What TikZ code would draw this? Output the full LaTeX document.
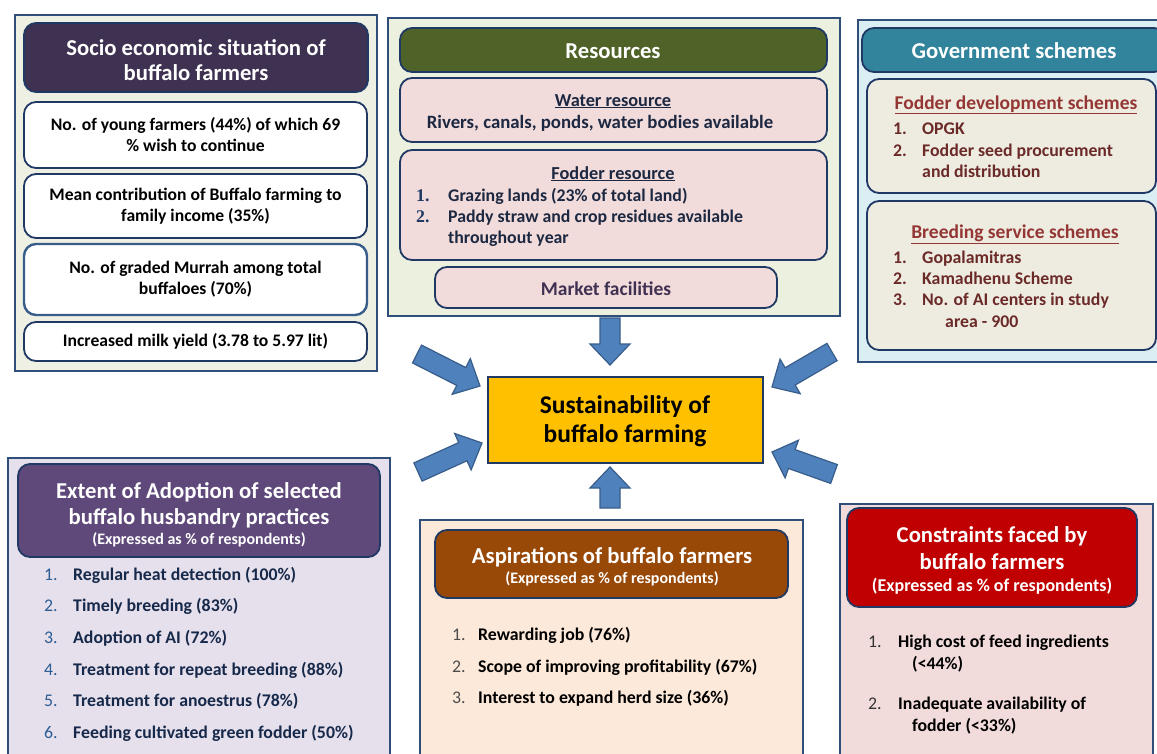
\documentclass[tikz,border=0pt]{standalone}
\usepackage{fontspec}
\setmainfont{Carlito}
\newfontfamily\serifnum{Liberation Serif}
\usetikzlibrary{calc,fit}
\definecolor{panelc}{HTML}{2F4F7A}
\definecolor{navy}{HTML}{1F3864}
\definecolor{socfill}{HTML}{EEF0E4}
\definecolor{soctitle}{HTML}{3F3151}
\definecolor{resfill}{HTML}{EBF1DE}
\definecolor{restitle}{HTML}{4F6228}
\definecolor{pinkbox}{HTML}{F2DCDB}
\definecolor{govfill}{HTML}{DBEEF4}
\definecolor{govtitle}{HTML}{31849B}
\definecolor{govbox}{HTML}{EEECE1}
\definecolor{govred}{HTML}{943634}
\definecolor{govtext}{HTML}{6B2A28}
\definecolor{coref}{HTML}{FFC000}
\definecolor{arrowf}{HTML}{4F81BD}
\definecolor{arrowd}{HTML}{385D8A}
\definecolor{adofill}{HTML}{E5E0EC}
\definecolor{adotitle}{HTML}{5F497A}
\definecolor{adotext}{HTML}{17294A}
\definecolor{adonum}{HTML}{2C5C94}
\definecolor{aspfill}{HTML}{FDE9D9}
\definecolor{asptitle}{HTML}{984807}
\definecolor{confill}{HTML}{F2DCDB}
\definecolor{contitle}{HTML}{C00000}
\definecolor{mktext}{HTML}{403152}
\definecolor{restext}{HTML}{1C2841}
\tikzset{
  panel/.style={draw=panelc, line width=2.4pt, inner sep=0pt},
  ibox/.style={draw=navy, line width=1.8pt, rounded corners=12pt, inner sep=0pt, align=center, font=\bfseries\fontsize{17.6}{21}\selectfont},
  tbox/.style={draw=navy, line width=1.8pt, rounded corners=12pt, inner sep=0pt, align=center, text=white},
  tl/.style={inner sep=0pt, anchor=base, font=\bfseries\fontsize{22.7}{26}\selectfont, text=white},
  sub/.style={inner sep=0pt, anchor=base, font=\bfseries\fontsize{16}{18}\selectfont, text=white},
  li/.style={inner sep=0pt, anchor=base west, font=\bfseries\fontsize{17.8}{20}\selectfont},
  ln/.style={inner sep=0pt, anchor=base west, font=\fontsize{17.8}{20}\selectfont},
  hd/.style={inner sep=0pt, anchor=base, font=\bfseries\fontsize{18.3}{20}\selectfont},
  barrow/.style={fill=arrowf, draw=arrowd, line width=1.2pt, line join=miter},
}
\newcommand\blockarrow[2]{%
  \coordinate (hb) at ($(#2)!21pt!(#1)$);
  \draw[barrow] ($(#1)!10pt!90:(#2)$) -- ($(hb)!10pt!90:(#2)$) -- ($(hb)!20pt!90:(#2)$) -- (#2)
    -- ($(hb)!20pt!-90:(#2)$) -- ($(hb)!10pt!-90:(#2)$) -- ($(#1)!10pt!-90:(#2)$) -- cycle;}
\begin{document}
\begin{tikzpicture}[x=1pt,y=-1pt]
\useasboundingbox (0,0) rectangle (1157,753);
\clip (0,0) rectangle (1157,753);
\fill[white] (0,0) rectangle (1157,753);

% ---------- Socio economic panel ----------
\node[panel, fill=socfill, fit={(15,15) (377,371)}] (socp) {};
\node[tbox, fill=soctitle, fit={(24,23) (368,92)}] (soct) {};
\node[tl] (soct1) at (196,55) {Socio economic situation of};
\node[tl] (soct2) at (196,80) {buffalo farmers};
\node[ibox, fill=white, fit={(24,102) (367,168)}] (s1) {};
\node[ibox, fill=white, fit={(24,174) (367,238)}] (s2) {};
\node[ibox, fill=white, draw=arrowd, line width=2.4pt, fit={(24,244) (367,315)}] (s3) {};
\node[ibox, fill=white, fit={(24,322) (367,361)}] (s4) {};
\node[ibox, draw=none, align=center] (s1t) at (s1) {No. of young farmers (44\%) of which 69\\\% wish to continue};
\node[ibox, draw=none, align=center] (s2t) at (s2) {Mean contribution of Buffalo farming to\\family income (35\%)};
\node[ibox, draw=none, align=center] (s3t) at (s3) {No. of graded Murrah among total\\buffaloes (70\%)};
\node[ibox, draw=none, align=center] (s4t) at (s4) {Increased milk yield (3.78 to 5.97 lit)};

% ---------- Resources panel ----------
\node[panel, fill=resfill, fit={(388,18) (840,316)}] (resp) {};
\node[tbox, fill=restitle, fit={(400,28) (827,72)}] (rest) {};
\node[tl] (rest1) at (613,58) {Resources};
\node[ibox, fill=pinkbox, fit={(400,78) (827,142)}] (water) {};
\node[hd, text=restext] (water1) at (613,106) {\underline{Water resource}};
\node[hd, text=restext, font=\bfseries\fontsize{18.8}{20}\selectfont] (water2) at (600,128) {Rivers, canals, ponds, water bodies available};
\node[ibox, fill=pinkbox, fit={(400,150) (827,260)}] (fodder) {};
\node[hd, text=restext] (fod0) at (613,179) {\underline{Fodder resource}};
\node[ln, text=navy] (fodn1) at (416,201) {\serifnum\bfseries 1.};
\node[li, text=restext] (fod1) at (448,201) {Grazing lands (23\% of total land)};
\node[ln, text=navy] (fodn2) at (416,222) {\serifnum\bfseries 2.};
\node[li, text=restext] (fod2) at (448,222) {Paddy straw and crop residues available};
\node[li, text=restext] (fod3) at (448,243) {throughout year};
\node[ibox, fill=pinkbox, fit={(435,267) (777,308)}] (market) {};
\node[hd, text=mktext, font=\bfseries\fontsize{19.5}{20}\selectfont] (market1) at (606,295) {Market facilities};

% ---------- Government schemes panel ----------
\node[panel, fill=govfill, fit={(858,20) (1170,362)}] (govp) {};
\node[tbox, fill=govtitle, fit={(862,28) (1166,72)}] (govt) {};
\node[tl] (govt1) at (1014,58) {Government schemes};
\node[ibox, fill=govbox, fit={(867,79) (1156,193)}] (fds) {};
\node[hd, text=govred, font=\bfseries\fontsize{19.5}{20}\selectfont] (fds0) at (1016,109) {\underline{Fodder development schemes}};
\node[li, text=govtext] (fdsn1) at (893,134) {1.};
\node[li, text=govtext] (fds1) at (922,134) {OPGK};
\node[li, text=govtext] (fdsn2) at (893,156) {2.};
\node[li, text=govtext] (fds2) at (922,156) {Fodder seed procurement};
\node[li, text=govtext] (fds3) at (922,177) {and distribution};
\node[ibox, fill=govbox, fit={(867,201) (1156,350)}] (bss) {};
\node[hd, text=govred, font=\bfseries\fontsize{19.5}{20}\selectfont] (bss0) at (1015,238) {\underline{Breeding service schemes}};
\node[li, text=govtext] (bssn1) at (893,263) {1.};
\node[li, text=govtext] (bss1) at (922,263) {Gopalamitras};
\node[li, text=govtext] (bssn2) at (893,284) {2.};
\node[li, text=govtext] (bss2) at (922,284) {Kamadhenu Scheme};
\node[li, text=govtext] (bssn3) at (893,305) {3.};
\node[li, text=govtext] (bss3) at (922,305) {No. of AI centers in study};
\node[li, text=govtext] (bss4) at (945,327) {area - 900};

% ---------- Centre ----------
\node[draw=navy, line width=2pt, fill=coref, fit={(488,377) (763,463)}, inner sep=0pt] (core) {};
\node[inner sep=0pt, anchor=base, font=\bfseries\fontsize{25.5}{27}\selectfont] (core1) at (625,413) {Sustainability of};
\node[inner sep=0pt, anchor=base, font=\bfseries\fontsize{25.5}{27}\selectfont] (core2) at (625,442) {buffalo farming};

% ---------- Adoption panel ----------
\node[panel, fill=adofill, fit={(8,458) (390,780)}] (adop) {};
\node[tbox, fill=adotitle, fit={(18,464) (380,557)}] (adot) {};
\node[tl] (adot1) at (199,498) {Extent of Adoption of selected};
\node[tl] (adot2) at (199,524) {buffalo husbandry practices};
\node[sub] (adot3) at (199,544) {(Expressed as \% of respondents)};
\foreach \n/\t/\y in {1/Regular heat detection (100\%)/580, 2/Timely breeding (83\%)/611, 3/Adoption of AI (72\%)/643, 4/Treatment for repeat breeding (88\%)/675, 5/Treatment for anoestrus (78\%)/706, 6/Feeding cultivated green fodder (50\%)/738}{
  \node[ln, text=adonum] (adon\n) at (44,\y) {\n.};
  \node[li, text=adotext] (adol\n) at (73,\y) {\t};
}

% ---------- Aspirations panel ----------
\node[panel, fill=aspfill, fit={(420,520) (803,780)}] (aspp) {};
\node[tbox, fill=asptitle, fit={(435,530) (788,598)}] (aspt) {};
\node[tl] (aspt1) at (612,563) {Aspirations of buffalo farmers};
\node[sub] (aspt2) at (612,583) {(Expressed as \% of respondents)};
\foreach \n/\t/\y in {1/Rewarding job (76\%)/640, 2/Scope of improving profitability (67\%)/672, 3/Interest to expand herd size (36\%)/703}{
  \node[ln, text=black!70] (aspn\n) at (452,\y) {\n.};
  \node[li, text=black] (aspl\n) at (478,\y) {\t};
}

% ---------- Constraints panel ----------
\node[panel, fill=confill, fit={(840,504) (1153,780)}] (conp) {};
\node[tbox, fill=contitle, fit={(847,508) (1137,607)}] (cont) {};
\node[tl] (cont1) at (992,542) {Constraints faced by};
\node[tl] (cont2) at (992,569) {buffalo farmers};
\node[sub, font=\bfseries\fontsize{18}{18}\selectfont] (cont3) at (992,591) {(Expressed as \% of respondents)};
\node[ln, text=black!80] (conn1) at (868,647) {1.};
\node[li] (con1) at (898,647) {High cost of feed ingredients};
\node[li] (con1b) at (912,669) {(<44\%)};
\node[ln, text=black!80] (conn2) at (868,709) {2.};
\node[li] (con2) at (898,709) {Inadequate availability of};
\node[li] (con2b) at (912,731) {fodder (<33\%)};

% ---------- Block arrows ----------
\coordinate (tTop) at (610,318);
\coordinate (hTop) at (610,365);
\coordinate (tBot) at (610,508);
\coordinate (hBot) at (610,467);
\coordinate (tUL) at (417,354);
\coordinate (hUL) at (480,386);
\coordinate (tLL) at (418,472);
\coordinate (hLL) at (482,443);
\coordinate (tUR) at (832,352);
\coordinate (hUR) at (772,387);
\coordinate (tLR) at (834,474);
\coordinate (hLR) at (772,452);
\blockarrow{tTop}{hTop}
\blockarrow{tBot}{hBot}
\blockarrow{tUL}{hUL}
\blockarrow{tLL}{hLL}
\blockarrow{tUR}{hUR}
\blockarrow{tLR}{hLR}
\end{tikzpicture}
\end{document}
